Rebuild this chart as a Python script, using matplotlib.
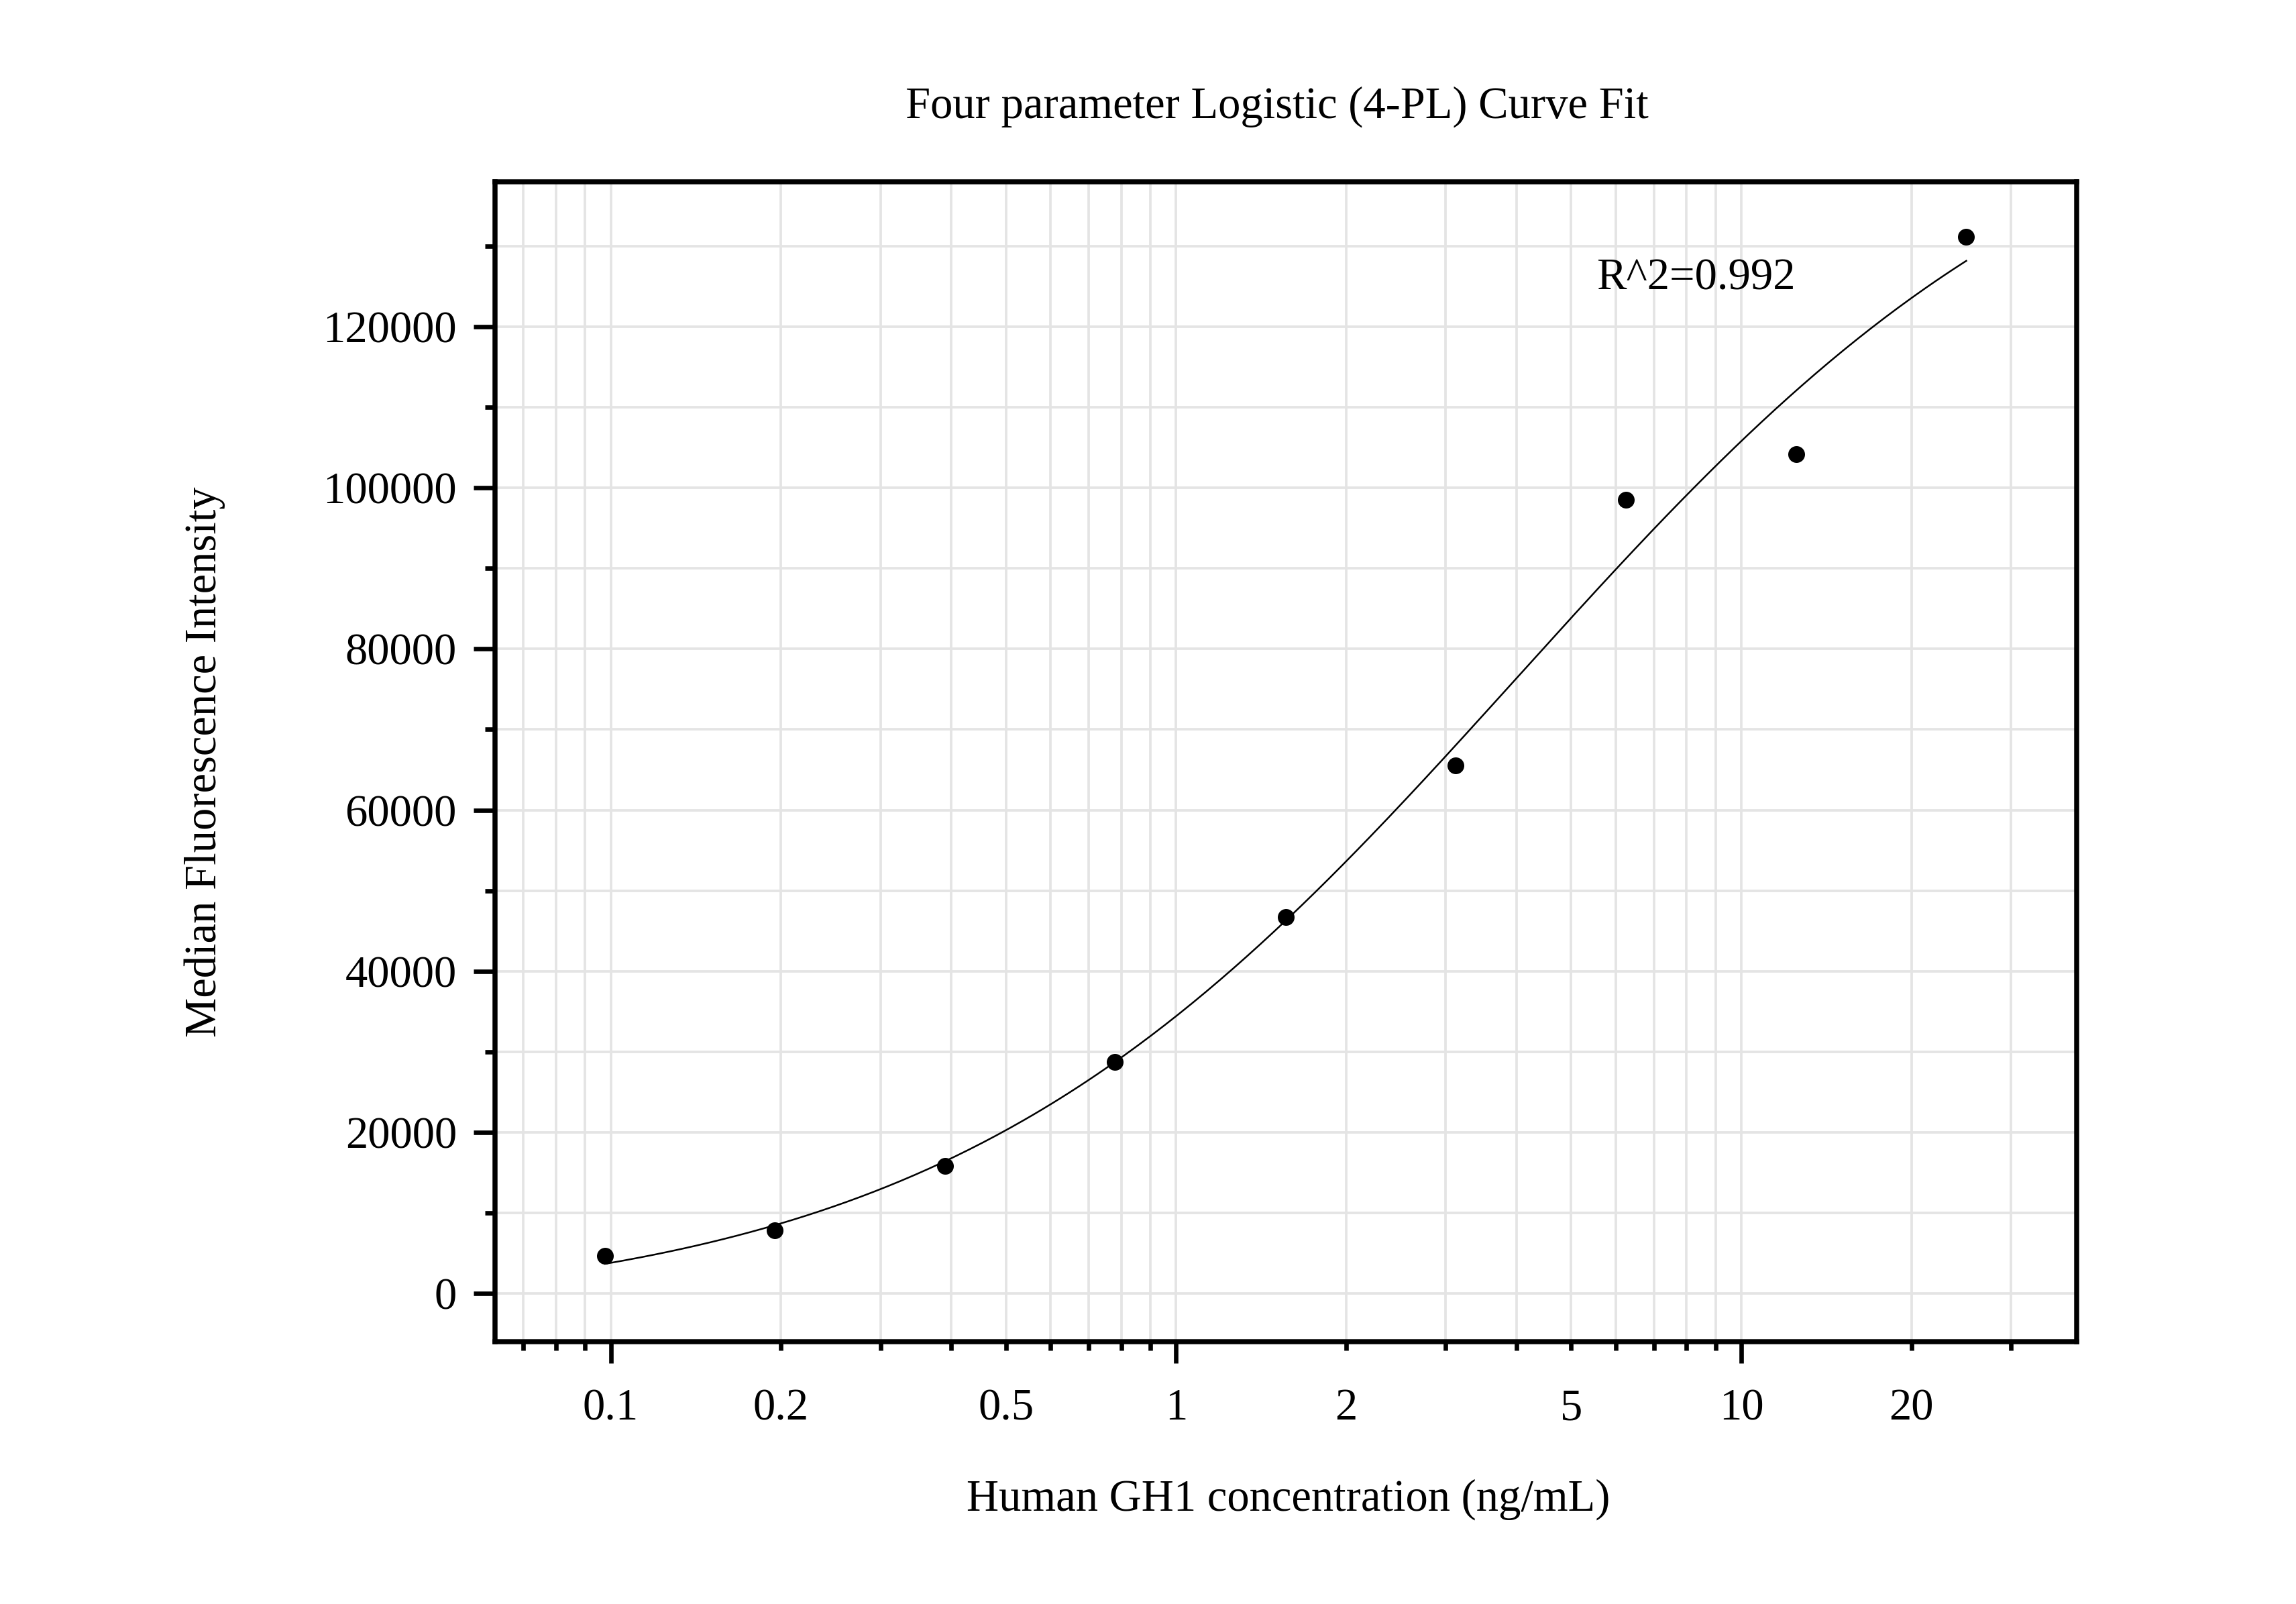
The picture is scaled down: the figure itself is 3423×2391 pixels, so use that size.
import numpy as np
import matplotlib
matplotlib.use("Agg")
import matplotlib.pyplot as plt
from matplotlib.ticker import LogLocator, FixedLocator, MultipleLocator, NullFormatter

# data (2-fold dilution series)
conc = [0.0977, 0.195, 0.39, 0.78, 1.5625, 3.125, 6.25, 12.5, 25.0]
mfi = [4700, 7800, 15800, 28700, 46700, 65500, 98500, 104200, 131200]
r2_text = "R^2=0.992"

x_ticks = [0.1, 0.2, 0.5, 1, 2, 5, 10, 20]
x_labels = ["0.1", "0.2", "0.5", "1", "2", "5", "10", "20"]
y_ticks = [0, 20000, 40000, 60000, 80000, 100000, 120000]

plt.rcParams['font.family'] = ['Liberation Serif', 'DejaVu Serif']

xd = np.array(conc)
yd = np.array(mfi, dtype=float)


def four_pl(x, p):
    a, b, logc, d = p
    return d + (a - d) / (1.0 + (x / np.exp(logc)) ** b)


# simple Levenberg-Marquardt fit of the 4-PL model
p = np.array([0.0, 1.0, np.log(3.0), 150000.0])
lam = 1e-3
for _ in range(500):
    r = yd - four_pl(xd, p)
    J = np.zeros((len(xd), 4))
    for k in range(4):
        dp = np.zeros(4)
        h = 1e-6 * max(1.0, abs(p[k]))
        dp[k] = h
        J[:, k] = (four_pl(xd, p + dp) - four_pl(xd, p - dp)) / (2 * h)
    JTJ = J.T @ J
    step = np.linalg.solve(JTJ + lam * np.diag(np.diag(JTJ)), J.T @ r)
    p_new = p + step
    if np.sum((yd - four_pl(xd, p_new)) ** 2) < np.sum(r ** 2):
        p = p_new
        lam *= 0.3
    else:
        lam *= 10

xc = np.logspace(np.log10(xd.min()), np.log10(xd.max()), 300)
yc = four_pl(xc, p)

fig = plt.figure(figsize=(3423 / 300, 2391 / 300), dpi=300)
ax = fig.add_axes([0.2156, 0.1635, 0.6889, 0.7232])

ax.plot(xc, yc, color='black', lw=0.6, zorder=3)
ax.plot(xd, yd, 'o', color='black', ms=5, zorder=4)

ax.set_xscale('log')
ax.set_xlim(0.0624, 39.2)
ax.set_ylim(-6000, 138000)

ax.xaxis.set_major_locator(LogLocator(base=10, numticks=10))
ax.xaxis.set_minor_locator(LogLocator(base=10, subs=np.arange(2, 10), numticks=20))
ax.xaxis.set_major_formatter(NullFormatter())
ax.xaxis.set_minor_formatter(NullFormatter())
ax.yaxis.set_major_locator(FixedLocator(y_ticks))
ax.yaxis.set_minor_locator(MultipleLocator(10000))

# x labels all at one height, whether the tick is long (decade) or short
for xt, lab in zip(x_ticks, x_labels):
    ax.text(xt, -0.040, lab, transform=ax.get_xaxis_transform(),
            ha='center', va='top', fontsize=16)

ax.set_yticklabels([str(v) for v in y_ticks])
ax.tick_params(axis='y', which='major', length=7.7, width=1.6, pad=6, labelsize=16)
ax.tick_params(axis='y', which='minor', length=3.6, width=1.6)
ax.tick_params(axis='x', which='major', length=7.7, width=1.6)
ax.tick_params(axis='x', which='minor', length=3.2, width=1.6)

ax.grid(True, which='both', color='#e4e4e4', lw=0.9, zorder=0)
ax.set_axisbelow(True)
for s in ax.spines.values():
    s.set_linewidth(1.8)

ax.text(5.54, 126000, r2_text, ha='left', va='center', fontsize=16)

fig.text(0.5561, 0.9335, "Four parameter Logistic (4-PL) Curve Fit", ha='center', va='center', fontsize=16)
fig.text(0.5610, 0.065, "Human GH1 concentration (ng/mL)", ha='center', va='center', fontsize=16)
fig.text(0.0893, 0.525, "Median Fluorescence Intensity", ha='center', va='center', rotation=90, fontsize=16)

fig.savefig('out.png', dpi=300)
